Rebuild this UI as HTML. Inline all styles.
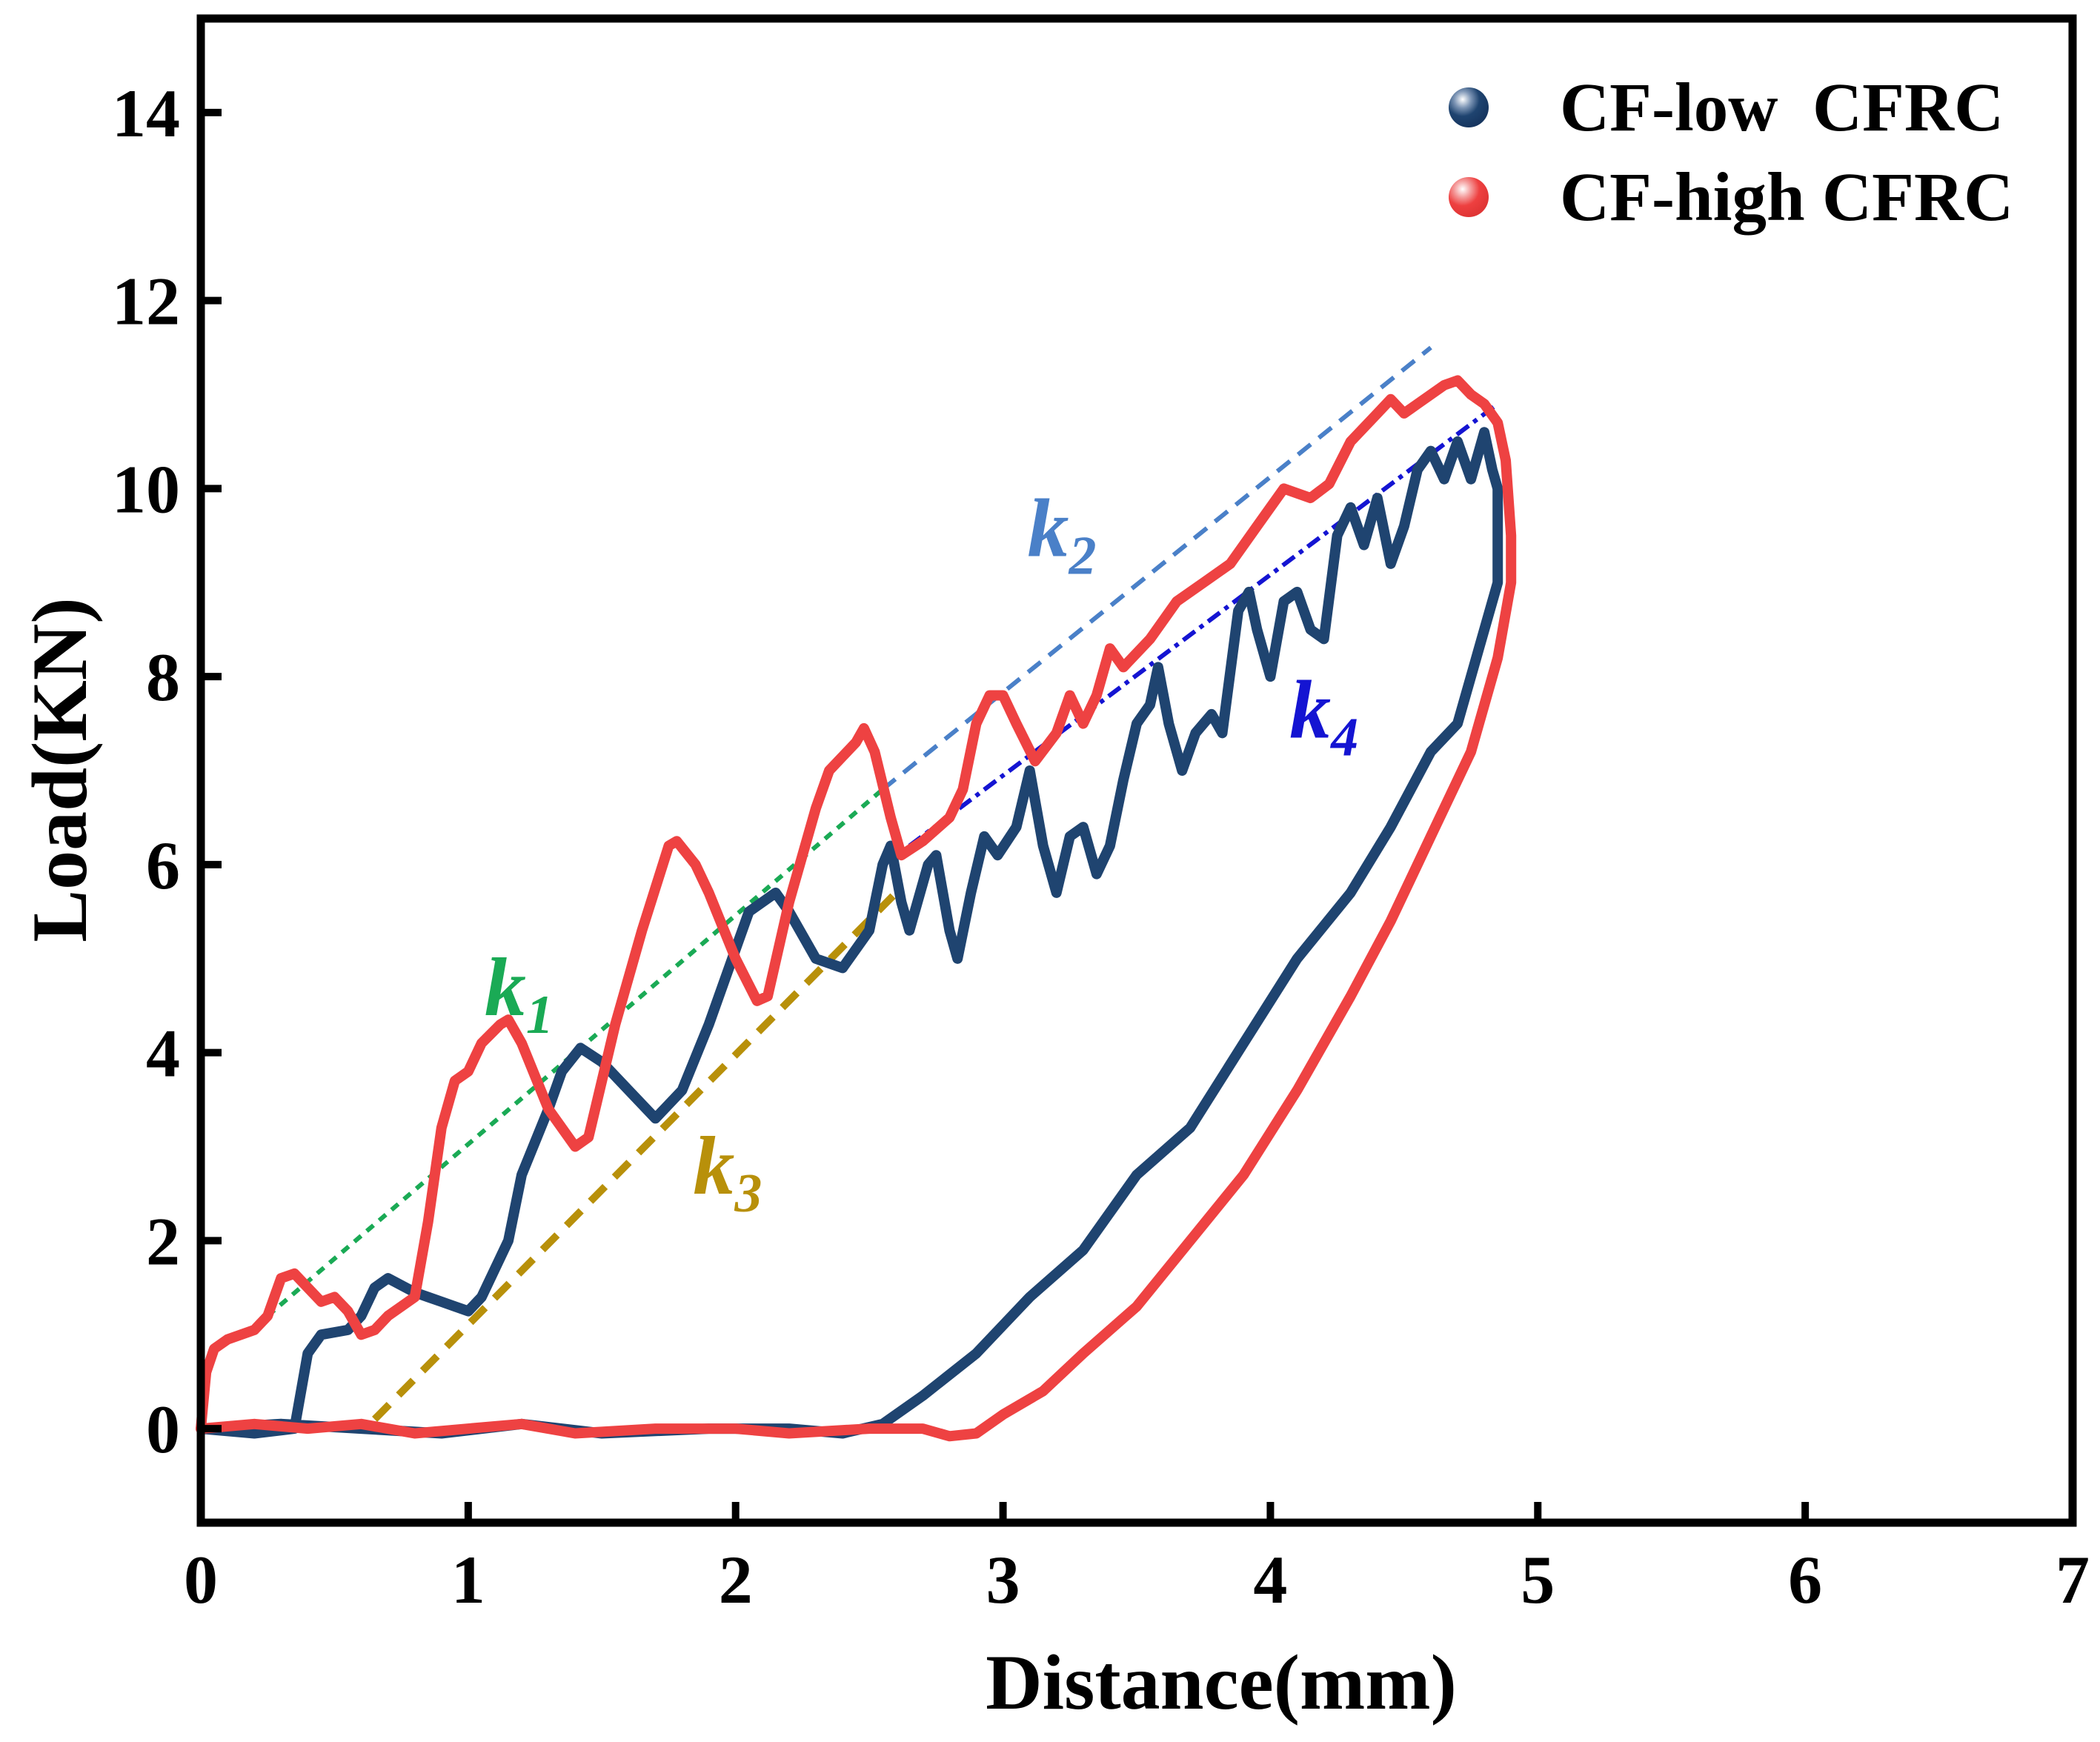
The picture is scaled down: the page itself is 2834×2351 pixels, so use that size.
<!DOCTYPE html>
<html><head><meta charset="utf-8"><style>
html,body{margin:0;padding:0;background:#fff}
svg{display:block;font-family:"Liberation Serif",serif;font-weight:bold}
</style></head><body>
<svg id="chart" width="2834" height="2351" viewBox="0 0 2834 2351" xmlns="http://www.w3.org/2000/svg">
<defs>
<radialGradient id="gBlue" cx="0.35" cy="0.3" r="0.7"><stop offset="0" stop-color="#ffffff"/><stop offset="0.3" stop-color="#7d95b5"/><stop offset="0.6" stop-color="#1f4470"/><stop offset="1" stop-color="#173660"/></radialGradient>
<radialGradient id="gRed" cx="0.35" cy="0.3" r="0.7"><stop offset="0" stop-color="#ffffff"/><stop offset="0.3" stop-color="#f49a9a"/><stop offset="0.6" stop-color="#ee4040"/><stop offset="1" stop-color="#e03535"/></radialGradient>
</defs>
<g id="series"></g>
<g id="axes"></g>
<g>
<circle cx="1982" cy="145" r="27" fill="url(#gBlue)"/>
<text x="2105" y="176" font-size="93">CF-low&#160; CFRC</text>
<circle cx="1982" cy="266" r="27" fill="url(#gRed)"/>
<text x="2105" y="297" font-size="93">CF-high CFRC</text>
</g>
<text x="1648" y="2306" font-size="106" text-anchor="middle">Distance(mm)</text>
<text transform="translate(116,1039) rotate(-90)" font-size="106" text-anchor="middle">Load(KN)</text>
</svg>
<script>
const xTicks=[0,1,2,3,4,5,6,7];
const yTicks=[0,2,4,6,8,10,12,14];
const redX=[0,0.02,0.05,0.1,0.2,0.25,0.3,0.35,0.4,0.45,0.5,0.55,0.6,0.65,0.7,0.8,0.85,0.9,0.95,1.0,1.05,1.12,1.15,1.2,1.3,1.4,1.45,1.55,1.65,1.75,1.78,1.85,1.9,2.0,2.08,2.12,2.2,2.3,2.35,2.45,2.48,2.52,2.58,2.62,2.7,2.8,2.85,2.9,2.95,3.0,3.05,3.12,3.2,3.25,3.3,3.35,3.4,3.45,3.55,3.65,3.75,3.85,3.95,4.05,4.15,4.22,4.3,4.4,4.45,4.5,4.55,4.65,4.7,4.75,4.8,4.85,4.88,4.9,4.9,4.85,4.75,4.6,4.45,4.3,4.1,3.9,3.7,3.5,3.3,3.15,3.0,2.9,2.8,2.7,2.5,2.2,2.0,1.7,1.4,1.2,1.0,0.8,0.6,0.4,0.2,0];
const redY=[0,0.6,0.85,0.95,1.05,1.2,1.6,1.65,1.5,1.35,1.4,1.25,1.0,1.05,1.2,1.4,2.2,3.2,3.7,3.8,4.1,4.3,4.35,4.1,3.4,3.0,3.1,4.3,5.3,6.2,6.25,6.0,5.7,5.0,4.55,4.6,5.6,6.6,7.0,7.3,7.45,7.2,6.5,6.1,6.25,6.5,6.8,7.5,7.8,7.8,7.5,7.1,7.4,7.8,7.5,7.8,8.3,8.1,8.4,8.8,9.0,9.2,9.6,10.0,9.9,10.05,10.5,10.8,10.95,10.8,10.9,11.1,11.15,11.0,10.9,10.7,10.3,9.5,9.0,8.2,7.2,6.3,5.4,4.6,3.6,2.7,2.0,1.3,0.8,0.4,0.15,-0.05,-0.08,0.0,0.0,-0.05,0.0,0.0,-0.05,0.05,0.0,-0.05,0.05,0.0,0.05,0];
const blueX=[0,0.2,0.35,0.4,0.45,0.55,0.6,0.65,0.7,0.8,0.85,0.9,0.95,1.0,1.05,1.15,1.2,1.3,1.35,1.42,1.5,1.6,1.7,1.8,1.9,2.0,2.05,2.15,2.2,2.3,2.4,2.5,2.55,2.58,2.62,2.65,2.72,2.75,2.8,2.83,2.88,2.93,2.98,3.05,3.1,3.15,3.2,3.25,3.3,3.35,3.4,3.45,3.5,3.55,3.58,3.62,3.67,3.72,3.78,3.82,3.88,3.92,3.95,4.0,4.05,4.1,4.15,4.2,4.25,4.3,4.35,4.4,4.45,4.5,4.55,4.6,4.65,4.7,4.75,4.8,4.83,4.85,4.85,4.78,4.7,4.6,4.45,4.3,4.1,3.9,3.7,3.5,3.3,3.1,2.9,2.7,2.55,2.4,2.2,1.9,1.5,1.2,0.9,0.6,0.3,0];
const blueY=[0,-0.05,0.0,0.8,1.0,1.05,1.2,1.5,1.6,1.45,1.4,1.35,1.3,1.25,1.4,2.0,2.7,3.4,3.8,4.05,3.9,3.6,3.3,3.6,4.3,5.1,5.5,5.7,5.5,5.0,4.9,5.3,6.0,6.2,5.6,5.3,6.0,6.1,5.3,5.0,5.7,6.3,6.1,6.4,7.0,6.2,5.7,6.3,6.4,5.9,6.2,6.9,7.5,7.7,8.1,7.5,7.0,7.4,7.6,7.4,8.7,8.9,8.5,8.0,8.8,8.9,8.5,8.4,9.5,9.8,9.4,9.9,9.2,9.6,10.2,10.4,10.1,10.5,10.1,10.6,10.2,10.0,9.0,8.3,7.5,7.2,6.4,5.7,5.0,4.1,3.2,2.7,1.9,1.4,0.8,0.35,0.05,-0.05,0.0,0.0,-0.05,0.05,-0.05,0.0,0.05,0];
const fitNames=["k1","k2","k3","k4"];
const fitX0=[0.25,2.55,0.65,2.65];
const fitY0=[1.2,6.8,0.1,6.2];
const fitX1=[2.55,4.6,2.6,4.85];
const fitY1=[6.8,11.5,5.7,10.9];
const fitLabelX=[1.19,3.22,1.97,4.2];
const fitLabelY=[4.7,9.58,2.8,7.65];

const L=271,R=2797,T=25,B=2055,XMIN=0,XMAX=7,YMIN=-1,YMAX=15;
const sx=v=>L+(v-XMIN)/(XMAX-XMIN)*(R-L);
const sy=v=>B-(v-YMIN)/(YMAX-YMIN)*(B-T);
const NS="http://www.w3.org/2000/svg";
function mk(tag,attrs,parent){const e=document.createElementNS(NS,tag);for(const k in attrs)e.setAttribute(k,attrs[k]);parent.appendChild(e);return e;}
const series=document.getElementById('series'),axes=document.getElementById('axes');
function curve(xs,ys,color,name){
  let d=xs.map((x,i)=>(i?'L':'M')+sx(x).toFixed(1)+' '+sy(ys[i]).toFixed(1)).join(' ');
  const p=mk('path',{d:d,fill:'none',stroke:color,'stroke-width':14,'stroke-linejoin':'round','stroke-linecap':'round'},series);
  
  
}
const fitColors=["#1aaa55","#4a80c8","#b8900a","#1414d2"];
const fitWidth=[6,6,10,6];
const fitDash=["12 10","22 14","28 18","20 8 6 8"];
fitNames.forEach((n,i)=>{
  const l=mk('line',{x1:sx(fitX0[i]),y1:sy(fitY0[i]),x2:sx(fitX1[i]),y2:sy(fitY1[i]),stroke:fitColors[i],'stroke-width':fitWidth[i],'stroke-dasharray':fitDash[i]},series);
  
  
});
curve(blueX,blueY,'#1f4470','cf-low-curve');
curve(redX,redY,'#ee4242','cf-high-curve');
fitNames.forEach((n,i)=>{
  const t=mk('text',{x:sx(fitLabelX[i]),y:sy(fitLabelY[i])+38,'font-size':112,'font-style':'italic',fill:fitColors[i],'text-anchor':'middle'},series);
  
  
  t.textContent='k';
  const s=mk('tspan',{'font-size':74,dy:24},t);
  s.textContent=n.slice(1);
});
const fr=mk('rect',{x:L,y:T,width:R-L,height:B-T,fill:'none',stroke:'#000','stroke-width':11},axes);


xTicks.forEach(v=>{
  const tk=mk('line',{x1:sx(v),y1:B,x2:sx(v),y2:B-28,stroke:'#000','stroke-width':10},axes);
  
  
  const t=mk('text',{x:sx(v),y:B+108,'font-size':92,'text-anchor':'middle'},axes);
  
  
  t.textContent=v;
});
yTicks.forEach(v=>{
  const tk=mk('line',{x1:L,y1:sy(v),x2:L+28,y2:sy(v),stroke:'#000','stroke-width':10},axes);
  
  
  const t=mk('text',{x:L-28,y:sy(v)+32,'font-size':92,'text-anchor':'end'},axes);
  
  
  t.textContent=v;
});
</script>
</body></html>
